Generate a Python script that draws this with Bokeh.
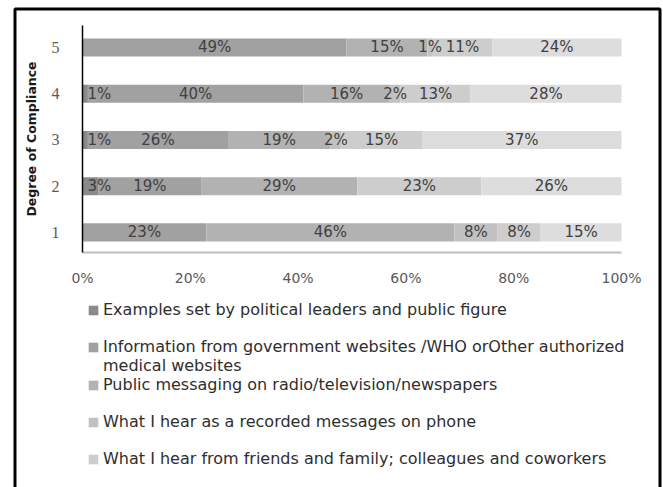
from bokeh.plotting import figure
from bokeh.models import (Range1d, FixedTicker, NumeralTickFormatter, Legend, LegendItem,
                          ColumnDataSource, BoxAnnotation, LinearAxis)
from bokeh.core.properties import value
from bokeh.embed import file_html
from bokeh.resources import INLINE

# ---------------- data ----------------
categories = ["1", "2", "3", "4", "5"]          # Degree of Compliance
series_labels = [
    "Examples set by political leaders and public figure",
    "Information from government websites /WHO orOther authorized medical websites",
    "Public messaging on radio/television/newspapers",
    "What I hear as a recorded messages on phone",
    "What I hear from friends and family; colleagues and coworkers",
    "Sixth series (legend entry cropped)",
]
examples    = [0, 3, 1, 1, 0]
information = [23, 19, 26, 40, 49]
public      = [46, 29, 19, 16, 15]
recorded    = [8, 0, 2, 2, 1]
friends     = [8, 23, 15, 13, 11]
sixth       = [15, 26, 37, 28, 24]
x_ticks = [0, 0.2, 0.4, 0.6, 0.8, 1.0]

series = [examples, information, public, recorded, friends, sixth]
colors = ["#8a8a8a", "#a1a1a1", "#b2b2b2", "#c1c1c1", "#cdcdcd", "#dddddd"]
keys = ["s%d" % i for i in range(len(series))]

ypos = [i + 1 for i in range(len(categories))]
data = {"y": ypos}
for k, s in zip(keys, series):
    data[k] = [v / 100 for v in s]
src = ColumnDataSource(data)

FONT = "DejaVu Sans"

# ---------------- layout (pixels) ----------------
W, H = 663, 487
PLOT_L, PLOT_R, PLOT_T, PLOT_B = 82, 621, 25, 252      # plotting area inside the canvas
Y_LO, Y_HI = 0.565, 5.475                               # value range of that area
xu = PLOT_R - PLOT_L
yu = (PLOT_B - PLOT_T) / (Y_HI - Y_LO)
x_range = Range1d(-PLOT_L / xu, (W - PLOT_L) / xu)
y_range = Range1d(Y_LO - (H - PLOT_B) / yu, Y_HI + PLOT_T / yu)

p = figure(width=W, height=H, output_backend="svg", toolbar_location=None,
           x_range=x_range, y_range=y_range, min_border=0,
           x_axis_location=None, y_axis_location=None)
p.outline_line_color = None
p.grid.visible = False
p.background_fill_color = "white"

renderers = p.hbar_stack(keys, y="y", height=0.39, color=colors, line_color=None, source=src)

# data labels (labels of tiny first segments start just right of the axis)
cx, cy, ct = [], [], []
ex, ey, et = [], [], []
for j, yv in enumerate(ypos):
    left = 0.0
    for s in series:
        v = s[j]
        if v > 0:
            if left == 0 and v < 5:
                ex.append(left); ey.append(yv); et.append("%d%%" % v)
            else:
                cx.append(left + v / 200); cy.append(yv); ct.append("%d%%" % v)
        left += v / 100
p.text(x=cx, y=cy, text=ct, text_align="center", text_baseline="middle",
       text_font=value(FONT), text_font_size="15px", text_color="#404040")
p.text(x=ex, y=ey, text=et, text_align="left", text_baseline="middle", x_offset=5,
       text_font=value(FONT), text_font_size="15px", text_color="#404040")

# axes (drawn at fixed positions on the canvas)
xa = LinearAxis(fixed_location=Y_LO, bounds=(0, 1))
xa.ticker = FixedTicker(ticks=x_ticks)
xa.formatter = NumeralTickFormatter(format="0%")
xa.axis_line_color = "#bdbdbd"
xa.axis_line_width = 2
xa.major_tick_line_color = None
xa.minor_tick_line_color = None
xa.major_label_text_font = FONT
xa.major_label_text_font_size = "14px"
xa.major_label_text_color = "#595959"
xa.major_label_standoff = 11
p.add_layout(xa, "below")

ya = LinearAxis(fixed_location=0, bounds=(Y_LO, Y_HI))
ya.ticker = FixedTicker(ticks=ypos)
ya.major_label_overrides = {yv: c for yv, c in zip(ypos, categories)}
ya.axis_line_color = "black"
ya.axis_line_width = 1.5
ya.major_tick_line_color = None
ya.minor_tick_line_color = None
ya.major_label_text_font = "Liberation Serif"
ya.major_label_text_font_size = "16px"
ya.major_label_text_color = "#595959"
ya.major_label_standoff = 17
ya.axis_label = "Degree of Compliance"
ya.axis_label_text_font = FONT
ya.axis_label_text_font_style = "bold"
ya.axis_label_text_font_size = "12.5px"
ya.axis_label_text_color = "#1a1a1a"
ya.axis_label_standoff = 10
p.add_layout(ya, "left")

# legend (blank spacer rows mimic the original spacing), under the x axis
blank = p.scatter(x=[], y=[], alpha=0)
info_words = series_labels[1].split(" ")
info_line1 = " ".join(info_words[:-2])
info_line2 = " ".join(info_words[-2:])
items = [
    LegendItem(label=series_labels[0], renderers=[renderers[0]]),
    LegendItem(label=" ", renderers=[blank]),
    LegendItem(label=info_line1, renderers=[renderers[1]]),
    LegendItem(label=info_line2, renderers=[blank]),
    LegendItem(label=series_labels[2], renderers=[renderers[2]]),
    LegendItem(label=" ", renderers=[blank]),
    LegendItem(label=series_labels[3], renderers=[renderers[3]]),
    LegendItem(label=" ", renderers=[blank]),
    LegendItem(label=series_labels[4], renderers=[renderers[4]]),
]
legend = Legend(items=items, location=(PLOT_L + 5, 19), orientation="vertical",
                glyph_width=12, glyph_height=12, label_standoff=4,
                label_text_font=FONT, label_text_font_size="16px",
                label_text_color="#2e2e2e", label_height=18, spacing=0,
                padding=5, margin=0, border_line_color=None,
                background_fill_alpha=0)
p.add_layout(legend, "center")

# black frame around the whole chart (its bottom edge lies below the picture)
frame_box = BoxAnnotation(left=14.5, right=659.5, top=H - 8.5, bottom=-20,
                          left_units="screen", right_units="screen",
                          top_units="screen", bottom_units="screen",
                          fill_alpha=0, line_color="black", line_alpha=1.0, line_width=3)
p.add_layout(frame_box)

open("out.html", "w").write(file_html(p, INLINE))
